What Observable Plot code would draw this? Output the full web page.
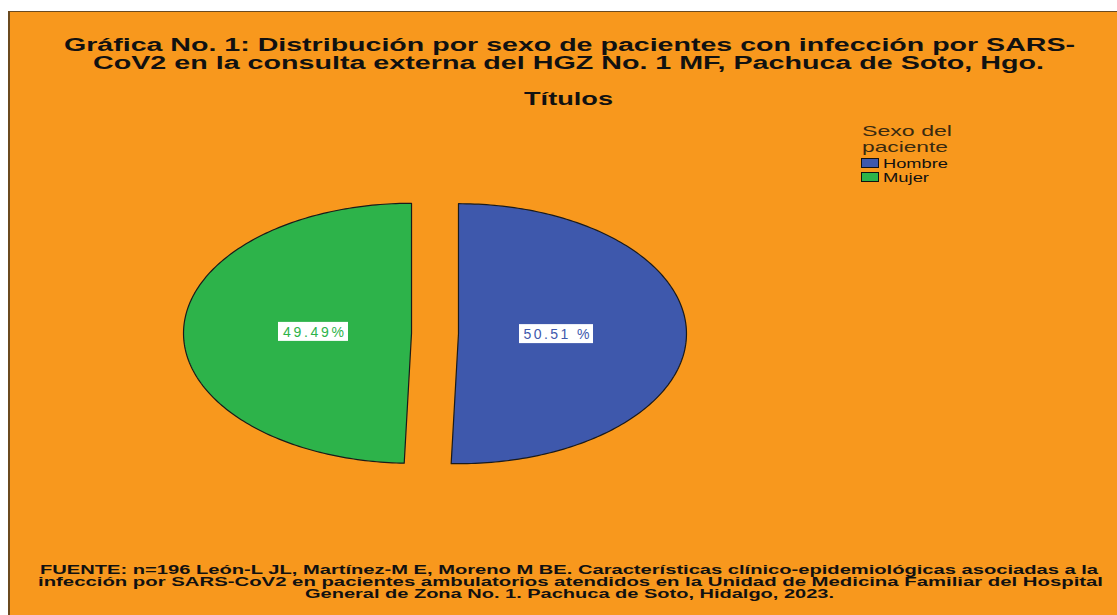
<!DOCTYPE html>
<html><head><meta charset="utf-8">
<script src="https://cdn.jsdelivr.net/npm/d3@7"></script>
<script src="https://cdn.jsdelivr.net/npm/@observablehq/plot@0.6"></script>
<style>
body{margin:0;width:1117px;height:615px;overflow:hidden;background:#fff;position:relative;font-family:"Liberation Sans",Arial,sans-serif}
#frame{position:absolute;left:8px;top:11px;width:1109px;height:604px;background:#F8981D;border-left:2px solid #6b4a1f;border-top:1px solid #6b4a1f;box-sizing:border-box}
#chart{position:absolute;left:0;top:0}
.t{position:absolute;white-space:nowrap;transform-origin:left center}
.sw{position:absolute;box-sizing:border-box;border:1px solid #111}
</style></head><body>
<div id="frame"></div>
<div id="chart"></div>
<div id="texts"></div>
<script>
// ---- data ----
const sexes = ["Hombre", "Mujer"];
const counts = [99, 97];
const sliceColors = ["#3E58AC", "#2DB34A"];
const titleLines = [
  "Gráfica No. 1: Distribución por sexo de pacientes con infección por SARS-",
  "CoV2 en la consulta externa del HGZ No. 1 MF, Pachuca de Soto, Hgo."
];
const subtitle = "Títulos";
const legendTitle = ["Sexo del", "paciente"];
const footerLines = [
  "FUENTE: n=196 León-L JL, Martínez-M E, Moreno M BE. Características clínico-epidemiológicas asociadas a la",
  "infección por SARS-CoV2 en pacientes ambulatorios atendidos en la Unidad de Medicina Familiar del Hospital",
  "General de Zona No. 1. Pachuca de Soto, Hidalgo, 2023."
];

// ---- pie geometry ----
const total = d3.sum(counts);
const arcs = d3.pie().sort(null).value(d => d.count)(sexes.map((s, i) => ({sex: s, count: counts[i], color: sliceColors[i]})));
const explode = 0.103;
const slices = arcs.map(a => {
  const mid = (a.startAngle + a.endAngle) / 2;
  const ox = explode * Math.sin(mid), oy = explode * Math.cos(mid);
  const pts = [{x: ox, y: oy}];
  const n = 180;
  for (let k = 0; k <= n; k++) {
    const ang = a.startAngle + (a.endAngle - a.startAngle) * k / n;
    pts.push({x: ox + Math.sin(ang), y: oy + Math.cos(ang)});
  }
  pts.push({x: ox, y: oy});
  return {sex: a.data.sex, color: a.data.color, pts,
    label: {x: ox + 0.43 * Math.sin(mid), y: oy + 0.43 * Math.cos(mid),
      text: d3.format(".2f")(a.data.count / total * 100) + (a.data.sex === "Hombre" ? " %" : "%"),
      half: a.data.sex === "Hombre" ? 37 : 35}};
});

const cx = 434.5, cy = 333, rx = 228, ry = 130;
const plot = Plot.plot({
  width: 1117, height: 615,
  x: {domain: [-1, 1], range: [cx - rx, cx + rx]},
  y: {domain: [-1, 1], range: [cy + ry, cy - ry]},
  axis: null,
  style: {background: "transparent", overflow: "visible"},
  marks: [
    ...slices.map(s => Plot.line(s.pts, {x: "x", y: "y", fill: s.color, stroke: "#1a1a1a", strokeWidth: 1.2})),
    ...slices.map(s => Plot.rect([s.label], {x1: "x", x2: "x", y1: "y", y2: "y",
      insetLeft: -s.label.half, insetRight: -s.label.half, insetTop: -10, insetBottom: -9, fill: "white"})),
    ...slices.map(s => Plot.text([s.label], {x: "x", y: "y", text: "text", fill: s.color, fontSize: 14,
      fontFamily: "Liberation Sans, Arial, sans-serif"}))
  ]
});
document.getElementById("chart").appendChild(plot);
plot.querySelectorAll("text").forEach(t => {
  t.setAttribute("textLength", t.textContent.includes(" %") ? 66 : 61);
  t.setAttribute("lengthAdjust", "spacing");
});

// ---- texts ----
const box = document.getElementById("texts");
function addText(str, x0, x1, yc, size, weight, color, family, lh) {
  const el = document.createElement("div");
  el.className = "t";
  el.textContent = str;
  el.style.fontSize = size + "px";
  el.style.lineHeight = (lh || size) + "px";
  el.style.fontWeight = weight;
  el.style.color = color;
  if (family) el.style.fontFamily = family;
  box.appendChild(el);
  const w = el.getBoundingClientRect().width;
  el.style.left = x0 + "px";
  el.style.top = (yc - (lh || size) / 2) + "px";
  el.style.transform = `scaleX(${(x1 - x0) / w})`;
}
addText(titleLines[0], 64, 1075, 45, 18, "bold", "#111", null, 17);
addText(titleLines[1], 93, 1044, 63, 18, "bold", "#111", null, 17);
addText(subtitle, 524, 613, 98, 19, "bold", "#111");
addText(legendTitle[0], 862, 952, 130, 15, "normal", "#3a2a10", null, 15);
addText(legendTitle[1], 862, 948, 146, 15, "normal", "#3a2a10", null, 15);
const swY = [158, 172];
sexes.forEach((s, i) => {
  const sw = document.createElement("div");
  sw.className = "sw";
  sw.style.left = "861px"; sw.style.top = swY[i] + "px";
  sw.style.width = "18px"; sw.style.height = "10px";
  sw.style.background = sliceColors[i];
  box.appendChild(sw);
  addText(s, 883, s === "Hombre" ? 948 : 929, swY[i] + 5, 13, "normal", "#111", null, 13);
});
const fam = '"Liberation Sans Narrow","Liberation Sans",Arial,sans-serif';
addText(footerLines[0], 40, 1098, 570, 12, "bold", "#111", fam, 11);
addText(footerLines[1], 38, 1103, 582, 12, "bold", "#111", fam, 11);
addText(footerLines[2], 305, 834, 594, 12, "bold", "#111", fam, 11);
</script>
</body></html>
